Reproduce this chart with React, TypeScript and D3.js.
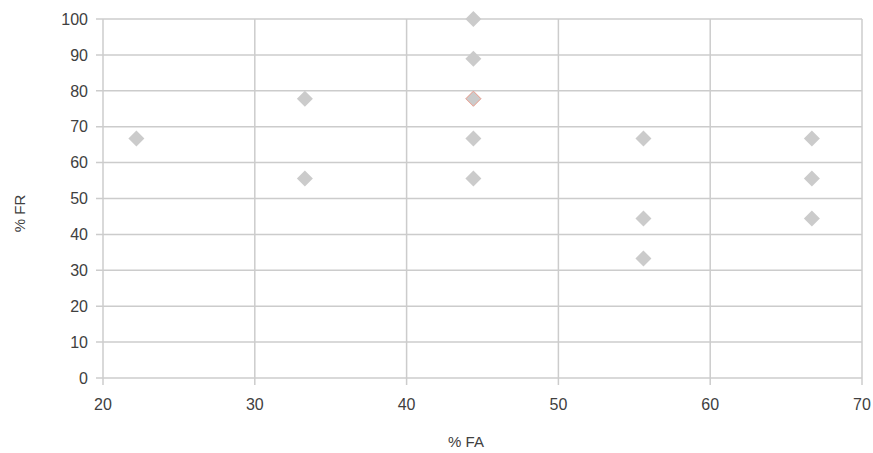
import React from "react";
import * as d3 from "d3";

const xTicks = [20, 30, 40, 50, 60, 70];
const yTicks = [0, 10, 20, 30, 40, 50, 60, 70, 80, 90, 100];
const faValues = [22.2, 33.3, 33.3, 44.4, 44.4, 44.4, 44.4, 44.4, 55.6, 55.6, 55.6, 66.7, 66.7, 66.7];
const frValues = [66.7, 77.8, 55.6, 100, 88.9, 77.8, 66.7, 55.6, 66.7, 44.4, 33.3, 66.7, 55.6, 44.4];
const highlightFA = [44.4];
const highlightFR = [77.8];

const W = 873, H = 453;
const left = 103, right = 862, top = 19, bottom = 378;

export default function App() {
  const x = d3.scaleLinear().domain([20, 70]).range([left, right]);
  const y = d3.scaleLinear().domain([0, 100]).range([bottom, top]);
  const diamond = (cx: number, cy: number, r: number) =>
    `M${cx},${cy - r}L${cx + r},${cy}L${cx},${cy + r}L${cx - r},${cy}Z`;
  const grid = "#cccccc";
  const font = "'Liberation Sans', Arial, sans-serif";
  return (
    <svg width={W} height={H} style={{ position: "absolute", left: 0, top: 0, background: "#fff" }}>
      {yTicks.map((t) => (
        <g key={"y" + t}>
          <line x1={left - 7} x2={right} y1={y(t)} y2={y(t)} stroke={grid} strokeWidth={1.5} />
          <text x={88} y={y(t)} dy="0.36em" textAnchor="end" fontSize={16} fontFamily={font} fill="#404040">{t}</text>
        </g>
      ))}
      {xTicks.map((t) => (
        <g key={"x" + t}>
          <line x1={x(t)} x2={x(t)} y1={top} y2={bottom + 7} stroke={grid} strokeWidth={1.5} />
          <text x={x(t)} y={410} textAnchor="middle" fontSize={16} fontFamily={font} fill="#404040">{t}</text>
        </g>
      ))}
      {faValues.map((v, i) => (
        <path key={"p" + i} d={diamond(x(v), y(frValues[i]), 8)} fill="#cbcbcb" />
      ))}
      {highlightFA.map((v, i) => (
        <path key={"h" + i} d={diamond(x(v), y(highlightFR[i]), 7.5)} fill="none" stroke="#f0a090" strokeWidth={1} />
      ))}
      <text x={466} y={447} textAnchor="middle" fontSize={15} fontFamily={font} fill="#404040">% FA</text>
      <text transform={`translate(25,${(top + bottom) / 2 + 15}) rotate(-90)`} textAnchor="middle" fontSize={15} fontFamily={font} fill="#404040">% FR</text>
    </svg>
  );
}
